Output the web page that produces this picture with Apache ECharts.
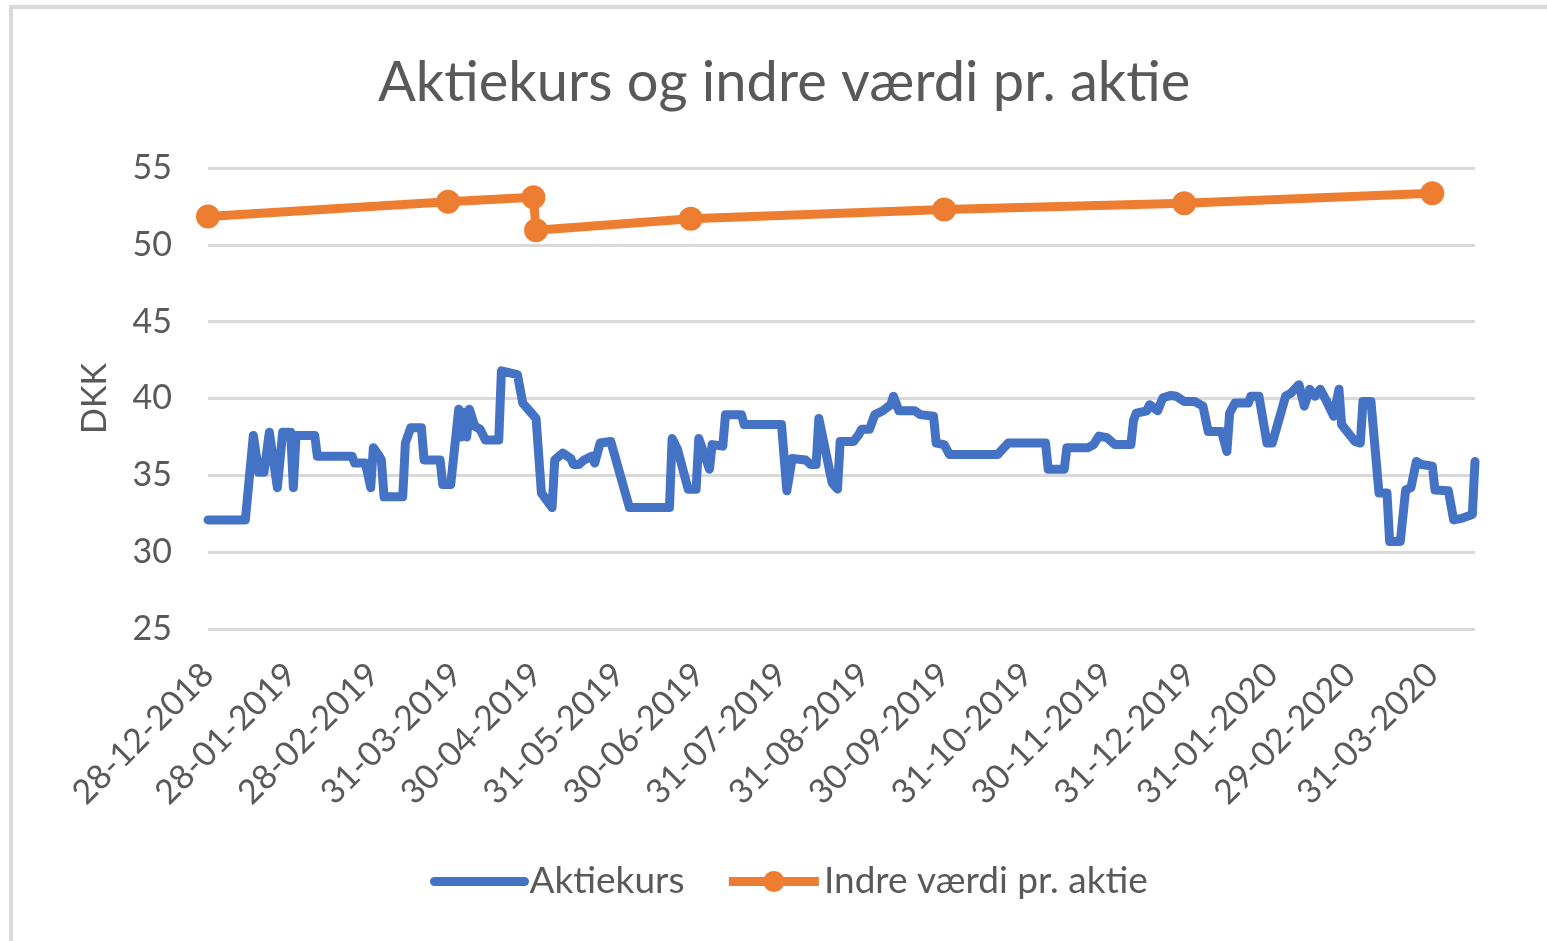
<!DOCTYPE html>
<html>
<head>
<meta charset="utf-8">
<title>Aktiekurs og indre værdi pr. aktie</title>
<script src="https://cdn.jsdelivr.net/npm/echarts@6/dist/echarts.min.js"></script>
<style>
  html, body { margin: 0; padding: 0; background: #fff; }
  #chartDom { width: 1547px; height: 941px; }
</style>
</head>
<body>
<div id="chartDom"></div>
<script>
// Aktiekurs (daglig, aflæst ved knækpunkter)
const kursDates = [
  '2018-12-28', '2019-01-11', '2019-01-14', '2019-01-16', '2019-01-18', '2019-01-20', '2019-01-23', '2019-01-25',
  '2019-01-28', '2019-01-29', '2019-01-30', '2019-02-06', '2019-02-07', '2019-02-20', '2019-02-21', '2019-02-25',
  '2019-02-27', '2019-02-28', '2019-03-02', '2019-03-03', '2019-03-04', '2019-03-11', '2019-03-12', '2019-03-14',
  '2019-03-18', '2019-03-19', '2019-03-25', '2019-03-26', '2019-03-29', '2019-04-01', '2019-04-02', '2019-04-03',
  '2019-04-04', '2019-04-05', '2019-04-07', '2019-04-09', '2019-04-11', '2019-04-16', '2019-04-17', '2019-04-23',
  '2019-04-25', '2019-04-27', '2019-04-30', '2019-05-02', '2019-05-06', '2019-05-07', '2019-05-10', '2019-05-13',
  '2019-05-14', '2019-05-16', '2019-05-18', '2019-05-21', '2019-05-22', '2019-05-24', '2019-05-28', '2019-06-04',
  '2019-06-19', '2019-06-20', '2019-06-22', '2019-06-26', '2019-06-29', '2019-06-30', '2019-07-04', '2019-07-05',
  '2019-07-09', '2019-07-10', '2019-07-16', '2019-07-17', '2019-07-31', '2019-08-02', '2019-08-04', '2019-08-09',
  '2019-08-11', '2019-08-13', '2019-08-14', '2019-08-19', '2019-08-21', '2019-08-22', '2019-08-27', '2019-08-29',
  '2019-08-30', '2019-09-02', '2019-09-04', '2019-09-07', '2019-09-10', '2019-09-11', '2019-09-13', '2019-09-19',
  '2019-09-21', '2019-09-26', '2019-09-27', '2019-09-30', '2019-10-02', '2019-10-20', '2019-10-24', '2019-11-07',
  '2019-11-08', '2019-11-14', '2019-11-15', '2019-11-23', '2019-11-25', '2019-11-27', '2019-11-30', '2019-12-03',
  '2019-12-09', '2019-12-10', '2019-12-11', '2019-12-15', '2019-12-16', '2019-12-19', '2019-12-21', '2019-12-24',
  '2019-12-26', '2019-12-29', '2020-01-02', '2020-01-05', '2020-01-07', '2020-01-12', '2020-01-14', '2020-01-15',
  '2020-01-17', '2020-01-22', '2020-01-23', '2020-01-26', '2020-01-29', '2020-01-31', '2020-02-05', '2020-02-07',
  '2020-02-10', '2020-02-12', '2020-02-14', '2020-02-16', '2020-02-18', '2020-02-20', '2020-02-23', '2020-02-25',
  '2020-02-26', '2020-03-02', '2020-03-04', '2020-03-05', '2020-03-08', '2020-03-11', '2020-03-14', '2020-03-15',
  '2020-03-19', '2020-03-21', '2020-03-23', '2020-03-25', '2020-03-27', '2020-03-31', '2020-04-01', '2020-04-06',
  '2020-04-08', '2020-04-11', '2020-04-15', '2020-04-16'
];
const kursValues = [
  32.1, 32.1, 37.6, 35.2, 35.2, 37.8, 34.2, 37.8,
  37.8, 34.2, 37.6, 37.6, 36.25, 36.25, 35.8, 35.8,
  34.2, 36.8, 36.3, 36.0, 33.6, 33.6, 37.1, 38.1,
  38.1, 36.0, 36.0, 34.4, 34.4, 39.3, 37.5, 39.1,
  37.5, 39.3, 38.2, 38.0, 37.3, 37.3, 41.8, 41.55,
  39.7, 39.3, 38.7, 33.85, 32.9, 36.0, 36.45, 36.1,
  35.7, 35.7, 36.0, 36.25, 35.8, 37.1, 37.2, 32.9,
  32.9, 37.4, 36.7, 34.1, 34.1, 37.4, 35.4, 37.0,
  36.9, 38.95, 38.95, 38.3, 38.3, 34.0, 36.1, 36.0,
  35.7, 35.7, 38.7, 34.5, 34.1, 37.2, 37.2, 37.65,
  38.0, 38.0, 38.95, 39.2, 39.6, 40.15, 39.2, 39.2,
  38.95, 38.85, 37.1, 37.0, 36.35, 36.35, 37.1, 37.1,
  35.4, 35.4, 36.8, 36.8, 37.0, 37.55, 37.45, 37.0,
  37.0, 38.6, 39.05, 39.2, 39.6, 39.2, 40.05, 40.2,
  40.15, 39.8, 39.8, 39.5, 37.85, 37.85, 36.55, 39.05,
  39.7, 39.7, 40.15, 40.15, 37.1, 37.1, 40.15, 40.35,
  40.9, 39.5, 40.6, 40.15, 40.6, 39.95, 38.85, 40.6,
  38.3, 37.2, 37.1, 39.8, 39.8, 33.85, 33.85, 30.7,
  30.7, 34.05, 34.2, 35.9, 35.7, 35.6, 34.05, 34.0,
  32.1, 32.2, 32.45, 35.9
];

// Indre værdi pr. aktie
const indreDates = ['2018-12-28', '2019-03-28', '2019-04-29', '2019-04-30', '2019-06-27', '2019-09-30', '2019-12-29', '2020-03-31'];
const indreValues = [51.85, 52.8, 53.1, 50.95, 51.7, 52.3, 52.7, 53.35];

// x-aksens datoetiketter
const labelDates = [
  '2018-12-28', '2019-01-28', '2019-02-28', '2019-03-31', '2019-04-30', '2019-05-31', '2019-06-30', '2019-07-31',
  '2019-08-31', '2019-09-30', '2019-10-31', '2019-11-30', '2019-12-31', '2020-01-31', '2020-02-29', '2020-03-31'
];
const yTicks = [25, 30, 35, 40, 45, 50, 55];

const toTime = (s) => echarts.time.parse(s).getTime();
const textColor = '#595959';
const fontFamily = 'Lato, "Open Sans", sans-serif';

const option = {
  backgroundColor: '#fff',
  animation: false,
  title: {
    text: 'Aktiekurs og indre værdi pr. aktie',
    left: 373,
    top: 50,
    textStyle: { color: textColor, fontFamily: fontFamily, fontWeight: 'normal', fontSize: 56 }
  },
  legend: {
    left: 425,
    top: 858,
    itemWidth: 90,
    itemHeight: 24,
    itemGap: 40,
    textStyle: { color: textColor, fontFamily: fontFamily, fontSize: 37 },
    lineStyle: { width: 9 },
    data: [
      { name: 'Aktiekurs', itemStyle: { opacity: 0 } },
      { name: 'Indre værdi pr. aktie' }
    ]
  },
  graphic: [{
    type: 'rect',
    silent: true,
    shape: { x: 11, y: 7, width: 1700, height: 1100 },
    style: { fill: 'none', stroke: '#d9d9d9', lineWidth: 4 }
  }],
  grid: {
    left: 208,
    right: 72,
    top: 168,
    bottom: 312,
    outerBoundsMode: 'none'
  },
  xAxis: {
    type: 'value',
    min: toTime('2018-12-28'),
    max: toTime('2020-04-16'),
    axisLine: { show: false },
    axisTick: { show: false },
    splitLine: { show: false },
    axisLabel: {
      customValues: labelDates.map(toTime),
      rotate: 45,
      margin: 40,
      color: textColor,
      fontFamily: fontFamily,
      fontSize: 34,
      formatter: (v) => echarts.time.format(v, '{dd}-{MM}-{yyyy}', false)
    }
  },
  yAxis: {
    type: 'value',
    min: yTicks[0],
    max: yTicks[yTicks.length - 1],
    interval: 5,
    name: 'DKK',
    nameLocation: 'middle',
    nameGap: 96,
    nameRotate: 90,
    nameTextStyle: { color: textColor, fontFamily: fontFamily, fontSize: 34 },
    axisLine: { show: false },
    axisTick: { show: false },
    axisLabel: { color: textColor, fontFamily: fontFamily, fontSize: 34, margin: 36 },
    splitLine: { lineStyle: { color: '#d9d9d9', width: 3 } }
  },
  series: [
    {
      name: 'Aktiekurs',
      type: 'line',
      symbol: 'none',
      color: '#4472c4',
      lineStyle: { width: 9, color: '#4472c4', join: 'round', cap: 'round' },
      data: kursDates.map((d, i) => [toTime(d), kursValues[i]])
    },
    {
      name: 'Indre værdi pr. aktie',
      type: 'line',
      symbol: 'circle',
      symbolSize: 22,
      color: '#ed7d31',
      itemStyle: { color: '#ed7d31', borderColor: '#ed7d31', borderWidth: 2 },
      lineStyle: { width: 9, color: '#ed7d31' },
      data: indreDates.map((d, i) => [toTime(d), indreValues[i]])
    }
  ]
};

const chartDom = document.getElementById('chartDom');
const myChart = echarts.init(chartDom);
myChart.setOption(option);
</script>
</body>
</html>
